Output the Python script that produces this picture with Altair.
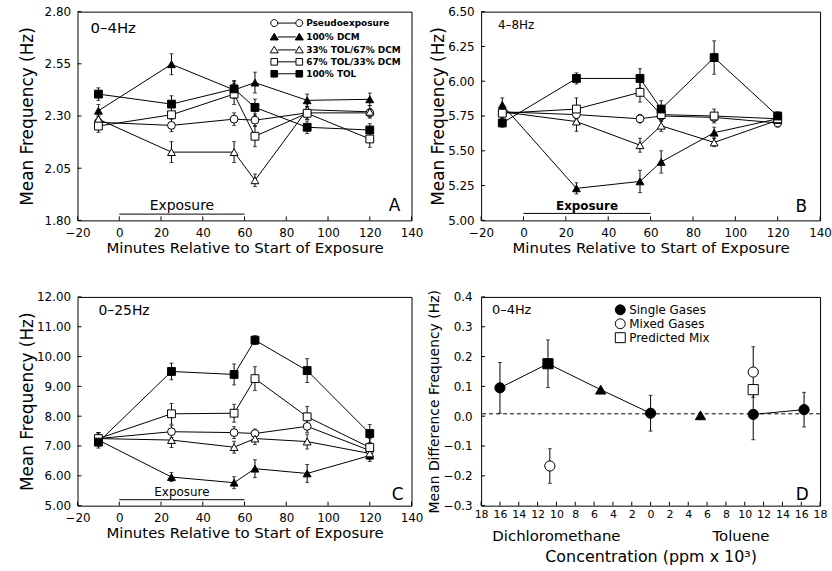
import altair as alt
import pandas as pd

FONT = "DejaVu Sans"

# ---------------- data ----------------
minutes = [-10, 25, 55, 65, 90, 120]
series_names = ["Pseudoexposure", "100% DCM", "33% TOL/67% DCM", "67% TOL/33% DCM", "100% TOL"]
marker_shapes = ["circle", "triangle-up", "triangle-up", "square", "square"]
marker_fills = ["white", "black", "white", "white", "black"]
x_ticks = [-20, 0, 20, 40, 60, 80, 100, 120, 140]

# Panel A: 0-4 Hz
a_pseudo = [2.27, 2.255, 2.285, 2.28, 2.315, 2.315]
a_dcm = [2.325, 2.548, 2.425, 2.46, 2.375, 2.38]
a_33tol = [2.285, 2.127, 2.127, 1.992, 2.33, 2.32]
a_67tol = [2.252, 2.306, 2.405, 2.203, 2.313, 2.19]
a_tol = [2.405, 2.357, 2.43, 2.341, 2.246, 2.233]
a_se_pseudo = [0.03, 0.03, 0.03, 0.03, 0.03, 0.02]
a_se_dcm = [0.03, 0.05, 0.04, 0.05, 0.03, 0.03]
a_se_33tol = [0.03, 0.05, 0.05, 0.03, 0.03, 0.03]
a_se_67tol = [0.03, 0.04, 0.05, 0.05, 0.03, 0.04]
a_se_tol = [0.03, 0.04, 0.04, 0.04, 0.03, 0.03]
a_ticks = [1.80, 2.05, 2.30, 2.55, 2.80]

# Panel B: 4-8 Hz
b_pseudo = [5.78, 5.76, 5.73, 5.75, 5.74, 5.70]
b_dcm = [5.83, 5.23, 5.28, 5.42, 5.63, 5.73]
b_33tol = [5.78, 5.71, 5.54, 5.68, 5.56, 5.72]
b_67tol = [5.77, 5.80, 5.92, 5.76, 5.75, 5.73]
b_tol = [5.70, 6.02, 6.02, 5.80, 6.17, 5.75]
b_se_pseudo = [0.03, 0.03, 0.03, 0.03, 0.03, 0.03]
b_se_dcm = [0.05, 0.04, 0.08, 0.08, 0.04, 0.03]
b_se_33tol = [0.04, 0.07, 0.05, 0.04, 0.03, 0.03]
b_se_67tol = [0.04, 0.08, 0.07, 0.05, 0.05, 0.03]
b_se_tol = [0.03, 0.04, 0.07, 0.06, 0.12, 0.03]
b_ticks = [5.00, 5.25, 5.50, 5.75, 6.00, 6.25, 6.50]

# Panel C: 0-25 Hz
c_pseudo = [7.25, 7.48, 7.45, 7.42, 7.66, 6.85]
c_dcm = [7.20, 5.96, 5.77, 6.24, 6.08, 6.68]
c_33tol = [7.25, 7.20, 6.96, 7.25, 7.15, 6.75]
c_67tol = [7.25, 8.08, 8.10, 9.26, 7.98, 6.95]
c_tol = [7.13, 9.50, 9.40, 10.55, 9.53, 7.42]
c_se_pseudo = [0.2, 0.2, 0.2, 0.15, 0.2, 0.2]
c_se_dcm = [0.2, 0.15, 0.2, 0.3, 0.3, 0.2]
c_se_33tol = [0.2, 0.25, 0.2, 0.2, 0.25, 0.2]
c_se_67tol = [0.2, 0.35, 0.3, 0.4, 0.35, 0.3]
c_se_tol = [0.2, 0.28, 0.35, 0.15, 0.4, 0.3]
c_ticks = [5.0, 6.0, 7.0, 8.0, 9.0, 10.0, 11.0, 12.0]

# Panel D: difference vs concentration (negative = dichloromethane side)
d_conc = [-16.0, -10.9, -5.3, 0.0, 5.3, 10.9, 16.3, -10.7, 10.9, 10.9]
d_value = [0.095, 0.176, 0.089, 0.010, 0.003, 0.006, 0.022, -0.167, 0.148, 0.089]
d_se = [0.085, 0.080, 0.0, 0.060, 0.0, 0.085, 0.058, 0.058, 0.085, 0.0]
d_kind = ["Single Gases", "Single square", "Single triangle", "Single Gases", "Single triangle",
          "Single Gases", "Single Gases", "Mixed Gases", "Mixed Gases", "Predicted Mix"]
d_group = ["DCM", "DCM", "DCM", "DCM", "", "TOL", "TOL", "", "", ""]
d_kinds = ["Single Gases", "Mixed Gases", "Predicted Mix", "Single square", "Single triangle"]
d_kind_shapes = ["circle", "circle", "square", "square", "triangle-up"]
d_kind_fills = ["black", "white", "white", "black", "black"]
d_ref = [0.008]
d_x_ticks = list(range(-18, 19, 2))
d_y_ticks = [-0.3, -0.2, -0.1, 0.0, 0.1, 0.2, 0.3, 0.4]
d_region_labels = ["Dichloromethane", "Toluene"]
d_region_pos = [-10.0, 9.6]

# ---------------- helpers ----------------
W1, W2, PH = 336, 341, 210


def long_table(values, ses):
    rows = []
    for name, vals, ss in zip(series_names, values, ses):
        for m, v, s in zip(minutes, vals, ss):
            rows.append({"minute": m, "value": v, "lo": v - s, "hi": v + s, "series": name})
    return pd.DataFrame(rows)


def legend_paths():
    def circ(c):
        return f"M {c-1} 0 A 1 1 0 1 1 {c+1} 0 A 1 1 0 1 1 {c-1} 0 Z "

    def tri(c):
        return f"M {c-1.15} 0.85 L {c} -1.05 L {c+1.15} 0.85 Z "

    def sq(c):
        return f"M {c-0.95} -0.95 L {c+0.95} -0.95 L {c+0.95} 0.95 L {c-0.95} 0.95 Z "

    line = "M -2.6 0 L 2.6 0 "
    makers = {"circle": circ, "triangle-up": tri, "square": sq}
    return [makers[s](-3.6) + line + makers[s](3.6) for s in marker_shapes]


def time_panel(table, width, y_domain, y_ticks, y_fmt, y_ext, y_tpad,
               band_text, band_size, band_xy, letter, letter_xy,
               expo_rule_y, expo_text_y, expo_size, expo_weight, with_legend):
    x_axis = alt.Axis(values=x_ticks, format="d", title="Minutes Relative to Start of Exposure",
                      labelFontSize=12, titleFontSize=15, labelPadding=7, titlePadding=2,
                      labelFlush=False, labelOverlap=False)
    y_axis = alt.Axis(values=y_ticks, format=y_fmt, title="Mean Frequency (Hz)",
                      labelFontSize=12, titleFontSize=17, labelPadding=7,
                      minExtent=y_ext, maxExtent=y_ext, titlePadding=y_tpad, labelOverlap=False)
    xs = alt.Scale(domain=[-20, 140], nice=False, zero=False)
    ys = alt.Scale(domain=y_domain, nice=False, zero=False)

    def X(f):
        return alt.X(f, scale=xs, axis=x_axis)

    def Y(f):
        return alt.Y(f, scale=ys, axis=y_axis)

    base = alt.Chart(table)
    xt = alt.Chart(pd.DataFrame({"minute": x_ticks})).mark_rule(color="black", strokeWidth=1).encode(
        x=X("minute:Q"), y=alt.value(PH - 4), y2=alt.value(PH))
    yt = alt.Chart(pd.DataFrame({"value": y_ticks})).mark_rule(color="black", strokeWidth=1).encode(
        y=Y("value:Q"), x=alt.value(0), x2=alt.value(4))
    expo_df = pd.DataFrame({"minute": [0], "minute_end": [60], "value": [expo_rule_y]})
    expo = alt.Chart(expo_df).mark_rule(color="black", strokeWidth=1).encode(
        x=X("minute:Q"), x2="minute_end:Q", y=Y("value:Q"))
    expo_t = alt.Chart(pd.DataFrame({"minute": [30], "value": [expo_text_y], "label": ["Exposure"]})).mark_text(
        font=FONT, fontSize=expo_size, fontWeight=expo_weight, color="black").encode(
        x=X("minute:Q"), y=Y("value:Q"), text="label:N")
    lines = base.mark_line(color="black", strokeWidth=1).encode(x=X("minute:Q"), y=Y("value:Q"), detail="series:N")
    bars = base.mark_rule(color="black", strokeWidth=1).encode(x=X("minute:Q"), y=Y("lo:Q"), y2="hi:Q")
    cap_hi = base.mark_tick(orient="horizontal", size=4, thickness=1, color="black").encode(
        x=X("minute:Q"), y=Y("hi:Q"))
    cap_lo = base.mark_tick(orient="horizontal", size=4, thickness=1, color="black").encode(
        x=X("minute:Q"), y=Y("lo:Q"))
    pts = base.mark_point(filled=True, size=62, stroke="black", strokeWidth=1, opacity=1).encode(
        x=X("minute:Q"), y=Y("value:Q"),
        shape=alt.Shape("series:N", scale=alt.Scale(domain=series_names, range=marker_shapes), legend=None),
        fill=alt.Fill("series:N", scale=alt.Scale(domain=series_names, range=marker_fills), legend=None))
    band = alt.Chart(pd.DataFrame({"label": [band_text]})).mark_text(
        font=FONT, fontSize=band_size, align="left", baseline="middle", color="black").encode(
        text="label:N", x=alt.value(band_xy[0]), y=alt.value(band_xy[1]))
    let = alt.Chart(pd.DataFrame({"label": [letter]})).mark_text(
        font=FONT, fontSize=17, align="center", baseline="middle", color="black").encode(
        text="label:N", x=alt.value(letter_xy[0]), y=alt.value(letter_xy[1]))
    layers = [xt, yt, expo, expo_t, lines, bars, cap_hi, cap_lo, pts, band, let]
    if with_legend:
        leg = alt.Legend(orient="none", legendX=206, legendY=7, title=None, labelFont=FONT,
                         labelFontSize=9, labelFontWeight="bold", labelColor="black",
                         symbolSize=49, rowPadding=1, labelOffset=15, padding=0,
                         symbolStrokeWidth=1)
        leg_layer = base.transform_filter("false").mark_point(
            filled=True, size=49, strokeWidth=1, opacity=1).encode(
            x=X("minute:Q"), y=Y("value:Q"),
            shape=alt.Shape("series:N", scale=alt.Scale(domain=series_names, range=legend_paths()), legend=leg),
            fill=alt.Fill("series:N", scale=alt.Scale(domain=series_names, range=marker_fills), legend=leg),
            stroke=alt.Stroke("series:N", scale=alt.Scale(domain=series_names, range=["black"] * 5), legend=leg))
        layers.append(leg_layer)
    return alt.layer(*layers).resolve_scale(shape="independent", fill="independent",
                                            stroke="independent").properties(width=width, height=PH)


tab_a = long_table([a_pseudo, a_dcm, a_33tol, a_67tol, a_tol],
                   [a_se_pseudo, a_se_dcm, a_se_33tol, a_se_67tol, a_se_tol])
tab_b = long_table([b_pseudo, b_dcm, b_33tol, b_67tol, b_tol],
                   [b_se_pseudo, b_se_dcm, b_se_33tol, b_se_67tol, b_se_tol])
tab_c = long_table([c_pseudo, c_dcm, c_33tol, c_67tol, c_tol],
                   [c_se_pseudo, c_se_dcm, c_se_33tol, c_se_67tol, c_se_tol])

panel_a = time_panel(tab_a, W1, [1.80, 2.80], a_ticks, ".2f", 34, 7,
                     "0\u20134Hz", 15, (13, 16), "A", (319, 196), 1.83, 1.87, 14, "normal", True)
panel_b = time_panel(tab_b, W2, [5.00, 6.50], b_ticks, ".2f", 33, 1,
                     "4\u20138Hz", 12, (17, 13), "B", (322, 197), 5.05, 5.105, 12, "bold", False)
panel_c = time_panel(tab_c, W1, [5.0, 12.0], c_ticks, ".2f", 34, 7,
                     "0\u201325Hz", 14, (21, 14), "C", (322, 199), 5.2, 5.47, 12, "normal", False)

# ---------------- panel D ----------------
d_df = pd.DataFrame({"conc": d_conc, "value": d_value, "se": d_se, "kind": d_kind, "group": d_group})
d_df["lo"] = d_df["value"] - d_df["se"]
d_df["hi"] = d_df["value"] + d_df["se"]

dx_axis = alt.Axis(values=d_x_ticks, labelExpr="abs(datum.value)", title="Concentration (ppm x 10\u00b3)",
                   labelFontSize=11, titleFontSize=16, labelPadding=3, titlePadding=29,
                   labelFlush=False, labelOverlap=False)
dy_axis = alt.Axis(values=d_y_ticks, format=".1f", title="Mean Difference Frequency (Hz)",
                   labelFontSize=12, titleFontSize=14, labelPadding=9, minExtent=36, maxExtent=36,
                   titlePadding=4, labelOverlap=False)
dxs = alt.Scale(domain=[-18, 18], nice=False, zero=False)
dys = alt.Scale(domain=[-0.3, 0.4], nice=False, zero=False)


def DX(f):
    return alt.X(f, scale=dxs, axis=dx_axis)


def DY(f):
    return alt.Y(f, scale=dys, axis=dy_axis)


d_base = alt.Chart(d_df)
d_xt = alt.Chart(pd.DataFrame({"conc": d_x_ticks})).mark_rule(color="black", strokeWidth=1).encode(
    x=DX("conc:Q"), y=alt.value(PH - 4), y2=alt.value(PH))
d_yt = alt.Chart(pd.DataFrame({"value": d_y_ticks})).mark_rule(color="black", strokeWidth=1).encode(
    y=DY("value:Q"), x=alt.value(0), x2=alt.value(4))
d_refl = alt.Chart(pd.DataFrame({"value": d_ref})).mark_rule(color="black", strokeWidth=1, strokeDash=[4, 3]).encode(
    y=DY("value:Q"))
d_lines = d_base.transform_filter("datum.group != ''").mark_line(color="black", strokeWidth=1).encode(
    x=DX("conc:Q"), y=DY("value:Q"), detail="group:N")
d_bars = d_base.transform_filter("datum.se > 0").mark_rule(color="black", strokeWidth=1).encode(
    x=DX("conc:Q"), y=DY("lo:Q"), y2="hi:Q")
d_cap_hi = d_base.transform_filter("datum.se > 0").mark_tick(orient="horizontal", size=4, thickness=1, color="black").encode(
    x=DX("conc:Q"), y=DY("hi:Q"))
d_cap_lo = d_base.transform_filter("datum.se > 0").mark_tick(orient="horizontal", size=4, thickness=1, color="black").encode(
    x=DX("conc:Q"), y=DY("lo:Q"))
d_leg = alt.Legend(orient="none", legendX=134, legendY=7, title=None, values=d_kinds[:3], labelFont=FONT,
                   labelFontSize=12, labelColor="black", symbolSize=100, rowPadding=0, labelOffset=3,
                   padding=0, symbolStrokeWidth=1)
d_pts = d_base.mark_point(filled=True, size=105, strokeWidth=1, opacity=1).encode(
    x=DX("conc:Q"), y=DY("value:Q"),
    shape=alt.Shape("kind:N", scale=alt.Scale(domain=d_kinds, range=d_kind_shapes), legend=d_leg),
    fill=alt.Fill("kind:N", scale=alt.Scale(domain=d_kinds, range=d_kind_fills), legend=d_leg),
    stroke=alt.Stroke("kind:N", scale=alt.Scale(domain=d_kinds, range=["black"] * 5), legend=d_leg))
d_regions = alt.Chart(pd.DataFrame({"conc": d_region_pos, "label": d_region_labels})).mark_text(
    font=FONT, fontSize=15, baseline="middle", color="black").encode(
    x=DX("conc:Q"), y=alt.value(PH + 31), text="label:N")
d_band = alt.Chart(pd.DataFrame({"label": ["0\u20134Hz"]})).mark_text(
    font=FONT, fontSize=13, align="left", baseline="middle", color="black").encode(
    text="label:N", x=alt.value(11), y=alt.value(13))
d_letter = alt.Chart(pd.DataFrame({"label": ["D"]})).mark_text(
    font=FONT, fontSize=17, align="center", baseline="middle", color="black").encode(
    text="label:N", x=alt.value(323), y=alt.value(199))

panel_d = alt.layer(d_xt, d_yt, d_refl, d_lines, d_bars, d_cap_hi, d_cap_lo, d_pts,
                    d_regions, d_band, d_letter).properties(width=W2, height=PH)

chart = alt.concat(panel_a, panel_b, panel_c, panel_d, columns=2,
                   spacing={"row": 77, "column": 70}, bounds="flush").resolve_scale(
    shape="independent", fill="independent", stroke="independent").properties(
    padding={"left": 18, "top": 3, "right": 0, "bottom": 0}
).configure_view(stroke="black", strokeWidth=1).configure_axis(
    domain=False, ticks=False, tickSize=0, grid=False, labelFont=FONT, titleFont=FONT,
    labelColor="black", titleColor="black", titleFontWeight="normal"
).configure_text(font=FONT)

chart.save("out.html", embed_options={"renderer": "svg", "actions": False})
